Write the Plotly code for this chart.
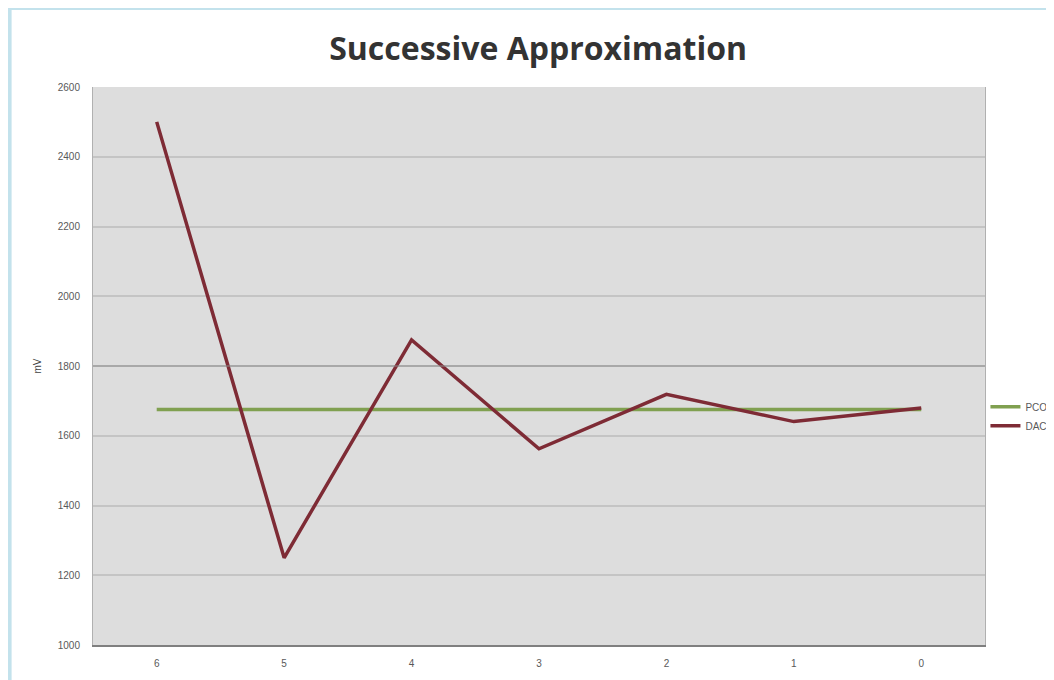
import plotly.graph_objects as go

# Bit positions (x categories) and the two series
bits = ['6', '5', '4', '3', '2', '1', '0']
pco = [1675, 1675, 1675, 1675, 1675, 1675, 1675]
dac = [2500, 1250, 1875, 1562.5, 1718.75, 1640.6, 1679.7]
y_ticks = [1000, 1200, 1400, 1600, 1800, 2000, 2200, 2400, 2600]

fig = go.Figure()

fig.add_trace(go.Scatter(
    x=bits, y=pco, name='PCO', mode='lines',
    line=dict(color='#80A050', width=3.5)
))
fig.add_trace(go.Scatter(
    x=bits, y=dac, name='DAC', mode='lines',
    line=dict(color='#7E2B35', width=3.5)
))

# white chart area inside the light blue frame
fig.add_shape(type='rect', xref='paper', yref='paper',
              x0=-0.084, x1=1.1, y0=-0.1, y1=1.138,
              fillcolor='white', line=dict(width=0), layer='below')
# grey plot area
fig.add_shape(type='rect', xref='x domain', yref='y domain',
              x0=0, x1=1, y0=0, y1=1,
              fillcolor='#DDDDDD', line=dict(width=0), layer='below')
# darker 1800 line
fig.add_shape(type='line', xref='x domain', yref='y',
              x0=0, x1=1, y0=1800, y1=1800,
              line=dict(color='#8C8C8C', width=1))

fig.update_layout(
    width=1054, height=680,
    margin=dict(l=85, r=0, t=79, b=43),
    paper_bgcolor='#C3E2EC',
    plot_bgcolor='#DDDDDD',
    title=dict(text='<b>Successive Approximation</b>', x=0.503, xanchor='center',
               y=0.94, yanchor='middle',
               font=dict(family='Open Sans', size=32, color='#333333')),
    font=dict(family='Liberation Sans', size=10, color='#595959'),
    xaxis=dict(type='category', range=[-0.5, 6.5], domain=[0, 0.9205],
               showgrid=False, showline=True, linecolor='#7F7F7F', linewidth=2,
               mirror=False, ticks='', ticklabelstandoff=8,
               tickfont=dict(size=10, color='#595959')),
    yaxis=dict(range=[1000, 2600], tickvals=y_ticks, showgrid=True,
               gridcolor='#C4C4C4', gridwidth=2, zeroline=False,
               showline=True, linecolor='#B0B0B0', mirror=True,
               ticks='', ticklabelstandoff=10,
               tickfont=dict(size=10, color='#595959'),
               title=dict(text='mV', font=dict(size=10, color='#404040'), standoff=14)),
    legend=dict(x=0.921, y=0.41, xanchor='left', yanchor='middle',
                bgcolor='rgba(0,0,0,0)', font=dict(size=10, color='#595959'),
                itemwidth=30, tracegroupgap=0),
    showlegend=True,
)

fig.write_html("out.html")
